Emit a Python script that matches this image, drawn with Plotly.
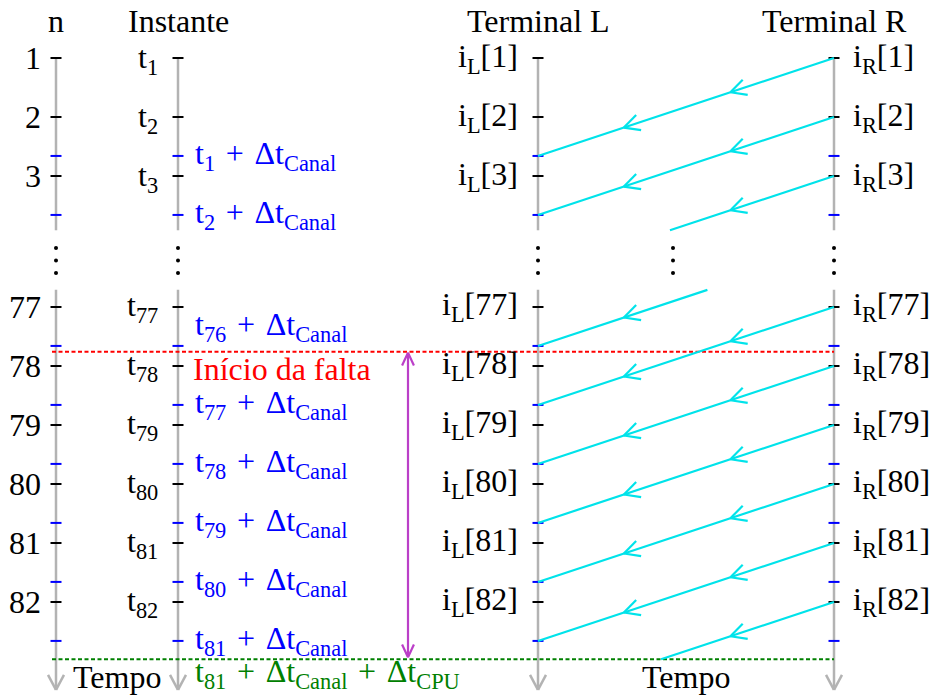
import numpy as np
import plotly.graph_objects as go

# ---------------- data ----------------
samples_top = [1, 2, 3]
samples_bottom = [77, 78, 79, 80, 81, 82]
sent_from_R = [1, 2, 3, 76, 77, 78, 79, 80, 81, 82]     # samples of i_R sent to terminal L
received_at_L = [1, 2, 76, 77, 78, 79, 80, 81]          # samples whose arrival is labelled
delta_canal = 1.66      # channel delay, in sample periods
delta_cpu = 0.31        # processing delay, in sample periods
fault_time = 77.76      # fault inception, in sample periods
header_labels = ["n", "Instante", "Terminal L", "Terminal R"]
fault_label = "Início da falta"
time_label = "Tempo"

# ---------------- layout constants ----------------
W, H = 931, 695
X_N, X_INST, X_L, X_R = 56, 178, 538, 834
AXES_X = [X_N, X_INST, X_L, X_R]
Y_TOP, PITCH, GAP_ROWS = 58, 59, 4.22
TOP_WIN = (1.0, 3.92)
BOT_WIN = (76.71, 83.49)
GRAY = "#b3b3b3"
CYAN = "#00e3ea"
BLUE = "#0000ff"
RED = "#ff0000"
GREEN = "#008000"
PURPLE = "#bb3fc8"
FONT = "Liberation Serif"
FS = 32
PLUS = "\u2004+\u2004"   # binary operator with math-like spacing


def ty(t):
    """Vertical scale: sample time -> screen row, with a break between blocks."""
    row = (t - 1) if t < 40 else (t - 77 + GAP_ROWS)
    return Y_TOP + PITCH * row


def chevron(tip, back, length, half_angle_deg):
    """Open arrow head: two arms from tip, spread around the 'back' direction."""
    bx, by = back
    nrm = np.hypot(bx, by)
    bx, by = bx / nrm, by / nrm
    xs, ys = [], []
    for s in (1, -1):
        a = np.radians(s * half_angle_deg)
        ax = bx * np.cos(a) - by * np.sin(a)
        ay = bx * np.sin(a) + by * np.cos(a)
        xs += [tip[0] + length * ax, tip[0], None]
        ys += [tip[1] + length * ay, tip[1], None]
    return xs, ys


fig = go.Figure()


def add_lines(xs, ys, color, width, dash="solid"):
    fig.add_trace(go.Scatter(x=xs, y=ys, mode="lines", hoverinfo="skip",
                             line=dict(color=color, width=width, dash=dash)))


# ---- time axes (two segments each, arrow at the bottom) ----
ax_x, ax_y = [], []
arr_x, arr_y = [], []
for x in AXES_X:
    ax_x += [x, x, None, x, x, None]
    ax_y += [ty(TOP_WIN[0]), ty(TOP_WIN[1]), None, ty(BOT_WIN[0]), ty(BOT_WIN[1]), None]
    cx, cy = chevron((x, ty(BOT_WIN[1])), (0, -1), 17, 28)
    arr_x += cx
    arr_y += cy
add_lines(ax_x, ax_y, GRAY, 2.5)
add_lines(arr_x, arr_y, GRAY, 2.5)

# ---- sample ticks (black) and arrival ticks (blue) ----
all_samples = samples_top + samples_bottom
arrivals = [n + delta_canal for n in received_at_L]
bk_x, bk_y, bl_x, bl_y = [], [], [], []
for x in AXES_X:
    for n in all_samples:
        bk_x += [x - 5.5, x + 5.5, None]
        bk_y += [ty(n), ty(n), None]
    for t in arrivals:
        bl_x += [x - 5.5, x + 5.5, None]
        bl_y += [ty(t), ty(t), None]
add_lines(bk_x, bk_y, "black", 2)
add_lines(bl_x, bl_y, BLUE, 2)

# ---- fault inception and decision instant ----
t_decision = samples_bottom[-2] + delta_canal + delta_cpu
add_lines([X_N - 4, X_R], [ty(fault_time)] * 2, RED, 2, dash="4px,2.5px")
add_lines([X_N - 4, X_R], [ty(t_decision)] * 2, GREEN, 2, dash="4px,2.5px")

# ---- messages R -> L ----
msg_x, msg_y, hd_x, hd_y = [], [], [], []
for n in sent_from_R:
    t0, t1 = n, n + delta_canal
    win = TOP_WIN if n < 40 else BOT_WIN
    lo = max(t0, win[0])
    hi = min(t1, win[1] if n < 40 else t_decision)

    def px(t):
        return X_R + (X_L - X_R) * (t - t0) / delta_canal

    msg_x += [px(lo), px(hi), None]
    msg_y += [ty(lo), ty(hi), None]
    back = (X_R - X_L, ty(t0) - ty(t1))
    for f in (0.35, 0.71):
        tm = t0 + f * delta_canal
        if lo <= tm <= hi:
            cx, cy = chevron((px(tm), ty(tm)), back, 17.5, 27)
            hd_x += cx
            hd_y += cy
add_lines(msg_x, msg_y, CYAN, 2.2)
add_lines(hd_x, hd_y, CYAN, 2.2)

# ---- total delay arrow ----
XP = 408
pa_x, pa_y = [XP, XP, None], [ty(fault_time) + 1, ty(t_decision) - 2, None]
cx, cy = chevron((XP, ty(fault_time) + 1), (0, 1), 14, 25)
pa_x += cx
pa_y += cy
cx, cy = chevron((XP, ty(t_decision) - 2), (0, -1), 14, 25)
pa_x += cx
pa_y += cy
add_lines(pa_x, pa_y, PURPLE, 2.2)

# ---- vertical ellipsis marks in the break ----
DOT_Y = [248, 260.5, 273]
dot_cols = [X_N, X_INST, X_L, 673, X_R]
fig.add_trace(go.Scatter(x=[c for c in dot_cols for _ in DOT_Y],
                         y=[d for _ in dot_cols for d in DOT_Y],
                         mode="markers", hoverinfo="skip",
                         marker=dict(color="black", size=4)))

# ---- text ----
def label(x, y, text, color="black", xanchor="center", yanchor="middle", yshift=0):
    fig.add_annotation(x=x, y=y, text=text, showarrow=False, xanchor=xanchor,
                       yanchor=yanchor, yshift=yshift,
                       font=dict(family=FONT, size=FS, color=color))


for x, txt in zip(AXES_X, header_labels):
    label(x, 21, txt)

for n in all_samples:
    y = ty(n)
    label(X_N - 13, y, str(n), xanchor="right")
    label(X_INST - 18, y, f"t<sub>{n}</sub>", xanchor="right", yshift=-1)
    label(X_L - 18, y, f"i<sub>L</sub>[{n}]", xanchor="right")
    label(X_R + 17, y, f"i<sub>R</sub>[{n}]", xanchor="left")

for n, t in zip(received_at_L, arrivals):
    txt = f"t<sub>{n}</sub>{PLUS}Δt<sub>Canal</sub>"
    if abs(t - fault_time) < 0.3:
        label(X_INST + 15, ty(t) + 3, txt, color=BLUE, xanchor="left", yanchor="bottom")
    else:
        label(X_INST + 15, ty(t), txt, color=BLUE, xanchor="left")

label(X_INST + 13, ty(fault_time) + 17, fault_label, color=RED, xanchor="left")
label(X_INST + 15, ty(t_decision) + 14,
      f"t<sub>{samples_bottom[-2]}</sub>{PLUS}Δt<sub>Canal</sub>{PLUS}Δt<sub>CPU</sub>",
      color=GREEN, xanchor="left")
label((X_N + X_INST) / 2, ty(t_decision) + 18, time_label)
label((X_L + X_R) / 2, ty(t_decision) + 18, time_label)

fig.update_layout(
    width=W, height=H, autosize=False,
    margin=dict(l=0, r=0, t=0, b=0),
    paper_bgcolor="white", plot_bgcolor="white",
    showlegend=False,
    font=dict(family=FONT, size=FS, color="black"),
    xaxis=dict(range=[0, W], visible=False, fixedrange=True),
    yaxis=dict(range=[H, 0], visible=False, fixedrange=True),
)

fig.write_html("out.html")
